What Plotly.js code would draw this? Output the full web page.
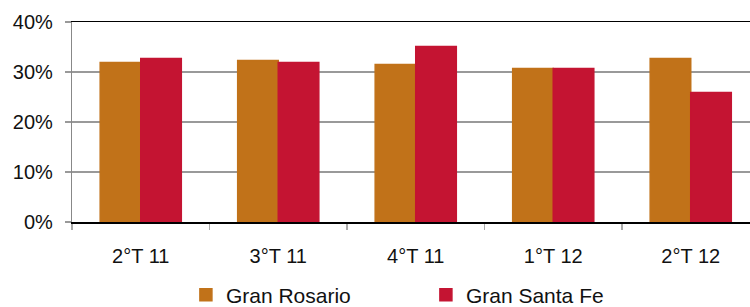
<!DOCTYPE html>
<html>
<head>
<meta charset="utf-8">
<script src="https://cdn.plot.ly/plotly-3.0.1.min.js"></script>
<style>html,body{margin:0;padding:0;background:#fff;}#chart{width:750px;height:307px;}</style>
</head>
<body>
<div id="chart"></div>
<script>
const categories = ["2°T 11", "3°T 11", "4°T 11", "1°T 12", "2°T 12"];
const granRosario = [0.319, 0.323, 0.315, 0.307, 0.327];
const granSantaFe = [0.327, 0.319, 0.351, 0.307, 0.259];
const seriesNames = ["Gran Rosario", "Gran Santa Fe"];
const yTickVals = [0, 0.1, 0.2, 0.3, 0.4];
const yTickText = ["0%", "10%", "20%", "30%", "40%"];

const font = {family: "Liberation Sans, Arial, sans-serif", size: 20, color: "#111"};

const traces = [
  {type: "bar", name: seriesNames[0], x: categories, y: granRosario,
   marker: {color: "#C17219", line: {color: "#C17219", width: 1.5}}, hoverinfo: "none"},
  {type: "bar", name: seriesNames[1], x: categories, y: granSantaFe,
   marker: {color: "#C41432", line: {color: "#C41432", width: 1.5}}, hoverinfo: "none"}
];

const layout = {
  width: 750, height: 307,
  margin: {l: 72, r: 0, t: 22, b: 85, pad: 0, autoexpand: false},
  paper_bgcolor: "#fff", plot_bgcolor: "#fff",
  font: font,
  barmode: "group", bargap: 0.41, bargroupgap: 0,
  showlegend: true,
  legend: {
    orientation: "h", x: 0.168, xanchor: "left", y: -0.365, yanchor: "middle",
    font: {family: font.family, size: 21, color: "#111"},
    entrywidth: 195, entrywidthmode: "pixels", itemwidth: 30,
    traceorder: "normal", bgcolor: "rgba(0,0,0,0)"
  },
  xaxis: {
    type: "category", range: [-0.5, 4.431], fixedrange: true,
    showline: true, linecolor: "#000", linewidth: 1.5, mirror: true,
    ticks: "outside", tickson: "boundaries", ticklen: 6, tickcolor: "#aaa", tickwidth: 1.5,
    ticklabelstandoff: 15,
    showgrid: false, tickfont: font
  },
  yaxis: {
    range: [0, 0.4], fixedrange: true,
    tickvals: yTickVals, ticktext: yTickText,
    showgrid: true, gridcolor: "#999", gridwidth: 1.2,
    showline: true, linecolor: "#888", linewidth: 1.2,
    ticks: "outside", ticklen: 6, tickcolor: "#999", tickwidth: 1.2,
    ticklabelstandoff: 8,
    zeroline: false, tickfont: font
  }
};

Plotly.newPlot("chart", traces, layout, {displayModeBar: false, staticPlot: true});
</script>
</body>
</html>
